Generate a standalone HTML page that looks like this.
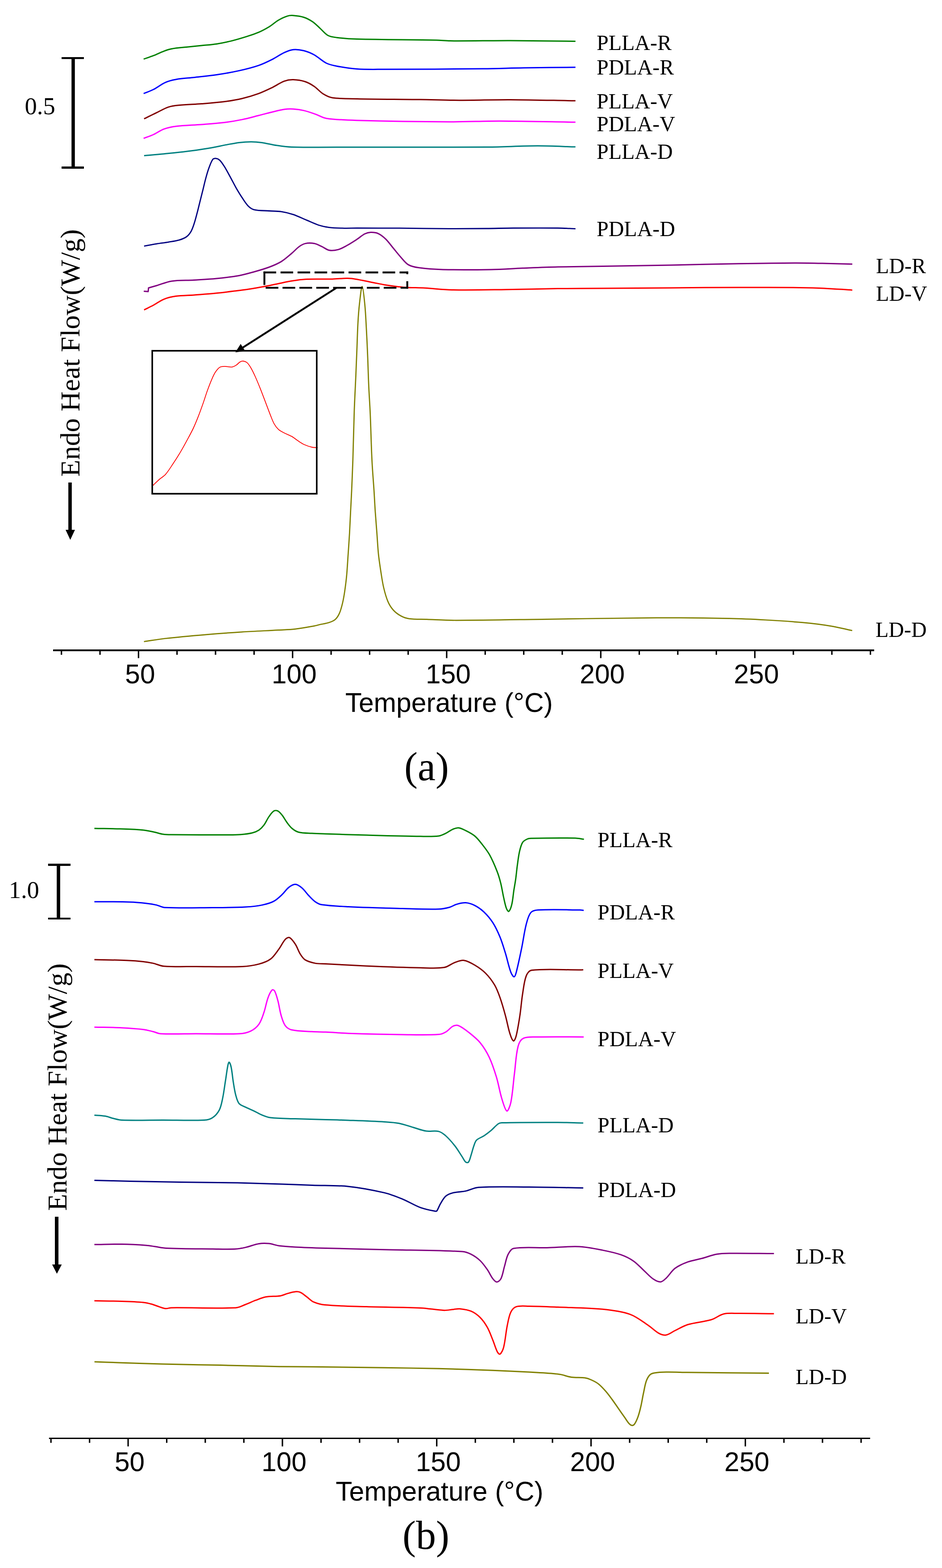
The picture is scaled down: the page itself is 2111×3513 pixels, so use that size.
<!DOCTYPE html>
<html><head><meta charset="utf-8"><title>DSC curves</title><style>
html,body{margin:0;padding:0;background:#fff;}
body{width:2111px;height:3513px;overflow:hidden;}
svg{display:block;}
.lab{font-family:"Liberation Serif","Times New Roman",serif;font-size:48px;fill:#000;}
.num{font-family:"Liberation Serif","Times New Roman",serif;font-size:54.5px;fill:#000;}
.yl{font-family:"Liberation Serif","Times New Roman",serif;font-size:62px;fill:#000;}
.pan{font-family:"Liberation Serif","Times New Roman",serif;font-size:90px;fill:#000;text-anchor:middle;}
.tick{font-family:"Liberation Sans",Arial,sans-serif;font-size:60.5px;fill:#000;text-anchor:middle;}
.ttl{font-family:"Liberation Sans",Arial,sans-serif;font-size:60.6px;fill:#000;text-anchor:middle;}
</style></head><body>
<svg width="2111" height="3513" viewBox="0 0 2111 3513">
<rect width="2111" height="3513" fill="#fff"/>
<g fill="none" stroke-linejoin="round" stroke-linecap="butt">
<path d="M321.9 132.4C329.2 129.8 336.6 127.5 343.8 124.7C351.8 121.6 359.4 117.6 367.4 114.6C372.9 112.5 378.5 110.5 384.2 109.5C395.3 107.5 406.7 106.7 417.9 105.5C429.1 104.3 440.4 103.3 451.6 102.1C462.8 100.9 474.1 100.1 485.3 98.4C496.6 96.6 507.9 94.3 519 91.6C530.3 88.8 541.6 85.4 552.7 81.9C561.8 79 570.9 76.2 579.6 72.4C587.7 68.9 595.6 64.6 603.2 60C610.3 55.7 616.4 49.7 623.5 45.5C629.9 41.7 636.7 38.3 643.7 36.1C647.9 34.7 652.7 34.4 657.1 34.7C665 35.3 673.2 36.3 680.7 38.7C687.8 41 694.7 44.7 700.9 48.9C707.1 53.1 712.2 58.9 717.8 64C723.4 69 728.2 75.7 734.6 79.2C740.5 82.4 748 83.3 754.9 84.2C769.8 86.1 784.9 87.2 800 87.6C859.5 89.1 919.1 88.9 978.6 90C988.7 90.2 998.8 91.5 1008.9 91.6C1053.8 91.9 1098.8 90.9 1143.7 91C1192.3 91.2 1241 92 1289.6 92.5" stroke="#008000" stroke-width="3.0"/>
<path d="M321.9 209.6C329.2 206.6 336.8 204.1 343.8 200.5C353.1 195.8 361.3 188.8 370.8 184.6C378.2 181.3 386.3 179.3 394.3 177.9C407.6 175.6 421.3 175 434.8 173.5C451.6 171.6 468.5 170 485.3 167.5C502.2 165 519.1 162.1 535.8 158.4C550.5 155.1 565.3 151.5 579.6 146.6C590.1 143 600.1 138.1 610 133.1C619.2 128.5 627.6 122.2 636.9 117.9C643.3 114.9 650.2 111.9 657.1 111.2C664.8 110.4 673.1 111.6 680.7 113.5C688.8 115.5 696.9 118.9 704.3 123C713.8 128.3 721.7 136.7 731.3 141.5C738.5 145.1 746.9 146.7 754.9 148.2C769.8 151 784.9 153.5 800 154.5C820.1 155.9 840.4 155.3 860.6 155.3C934.7 155.2 1008.9 154.8 1083 154C1113.3 153.7 1143.7 152.5 1174 152C1212.5 151.4 1251.1 151.2 1289.6 150.8" stroke="#0000ff" stroke-width="3.0"/>
<path d="M322.9 266.2C332.1 261.7 341.3 257.1 350.5 252.7C359.5 248.4 368.1 243 377.5 239.9C385 237.4 393.2 236.6 401.1 235.8C417.9 234.1 434.8 233.8 451.6 232.5C468.5 231.2 485.4 230 502.2 227.8C515.7 226 529.3 223.8 542.6 220.7C555.1 217.8 567.5 214 579.6 209.6C590 205.8 600 200.9 610 196.1C619.1 191.7 627.5 185.4 636.9 181.9C643.2 179.6 650.4 178.4 657.1 178.6C666.1 178.8 675.5 180.3 684.1 183C691.3 185.3 698 189.4 704.3 193.7C711.5 198.6 717.1 206 724.5 210.6C730.6 214.4 737.6 218 744.7 219C762.7 221.6 781.6 221 800 221.4C847.2 222.4 894.3 222.3 941.5 223C970.7 223.4 999.8 224.6 1029 224.7C1067.2 224.8 1105.5 223.2 1143.7 223.4C1192.3 223.6 1241 225 1289.6 225.8" stroke="#800000" stroke-width="3.0"/>
<path d="M321.9 310C329.2 307.2 336.7 304.8 343.8 301.5C351.9 297.8 359.1 292.1 367.4 289.1C376 286 385.2 284.1 394.3 283C413.3 280.7 432.5 280.5 451.6 279C468.5 277.7 485.4 276.6 502.2 274.6C515.7 272.9 529.2 270.6 542.6 267.9C555 265.4 567.3 261.9 579.6 258.8C589.7 256.3 599.8 253.4 610 251C618.9 248.8 627.8 246.3 636.9 245C643.5 244.1 650.4 243.9 657.1 244.3C665 244.8 673 245.8 680.7 247.6C689.9 249.7 698.8 253 707.7 256.1C715.7 258.9 723 264 731.3 265.2C753.8 268.5 777.1 269.1 800 269.7C869.6 271.6 939.3 272.6 1008.9 272.9C1045.9 273.1 1083 271.1 1120 271.2C1176.5 271.4 1233.1 272.9 1289.6 273.8" stroke="#ff00ff" stroke-width="3.0"/>
<path d="M322.9 348.7C337.7 347.4 352.6 346.2 367.4 344.7C384.2 343 401.1 341.4 417.9 339.3C434.8 337.2 451.7 334.7 468.5 331.9C482 329.6 495.4 326.6 508.9 324.1C517.8 322.4 526.8 320.5 535.8 319.4C544.7 318.3 553.8 317.7 562.8 317.7C570.7 317.7 578.6 318.3 586.4 319.4C597.7 321 608.8 324.1 620.1 325.8C631.3 327.5 642.5 329.3 653.8 329.5C702.5 330.6 751.3 329.7 800 329.7C897.7 329.7 995.3 330.2 1093 329.5C1130 329.2 1167 326.9 1204 326.8C1232.5 326.7 1261.1 328.3 1289.6 329.1" stroke="#008080" stroke-width="3.0"/>
<path d="M322.9 551.4C332.1 549.7 341.3 547.8 350.5 546.3C359.5 544.8 368.5 543.8 377.5 542.3C385.4 541 393.5 540.1 401.1 537.9C406.9 536.2 413 534 417.9 530.5C422 527.6 425.4 523.1 428 518.7C431 513.5 432.9 507.6 434.8 501.8C437.4 494.1 439.4 486.1 441.5 478.2C443.9 469.3 446 460.3 448.2 451.3C450.5 442.3 452.7 433.3 455 424.3C457.2 415.3 459.2 406.3 461.7 397.4C463.7 390 465.8 382.6 468.5 375.5C470.9 369.2 473.2 362.1 476.9 357C478.2 355.2 481.4 354.7 483.6 354.9C486.5 355.2 489.8 356.6 492 358.6C496 362.3 499.2 367.4 502.2 372.1C507 379.7 511.2 387.8 515.6 395.7C520.2 404.1 524.4 412.7 529.1 421C533.4 428.4 537.8 435.8 542.6 442.9C546.8 449.2 550.8 456.1 556.1 461.4C559.8 465.1 564.5 468.6 569.5 469.8C580.2 472.3 592 471.7 603.2 472.5C612.2 473.2 621.3 472.9 630.2 474.2C639.3 475.6 648.4 477.7 657.1 480.6C667.5 484.1 677.4 489.2 687.5 493.4C696.5 497.1 705.2 501.5 714.4 504.5C722 506.9 730 508.7 738 509.6C749.1 510.9 760.5 511 771.7 511.3C781.1 511.5 790.6 511 800 511C831.6 511 863.3 511 894.9 511.2C931.9 511.5 969 512.2 1006 512.4C1034.1 512.5 1062.2 512.3 1090.3 512C1110.2 511.8 1130.1 511.1 1150 511C1183.3 510.8 1216.7 510.6 1250 511C1263.2 511.1 1276.4 512 1289.6 512.5" stroke="#000080" stroke-width="2.8"/>
<path d="M322.2 652.4L332 653.3L332.9 645C338.8 643.3 344.6 641.7 350.5 640C361.7 636.7 372.7 631.6 384.2 629.9C400.8 627.4 417.9 628.5 434.8 627.5C451.6 626.5 468.5 625.8 485.3 624.1C502.2 622.4 519.1 620.4 535.8 617.4C547.2 615.4 558.4 612.1 569.5 609C580.8 605.8 592.2 602.6 603.2 598.5C612.4 595 621.8 591.2 630.2 586.1C638.7 580.9 646.1 573.9 653.8 567.5C659.6 562.7 664.5 556.8 670.6 552.4C674.6 549.5 679.3 546.6 684.1 545.6C690.5 544.3 697.8 544.4 704.3 545.6C710.2 546.7 715.7 549.9 721.2 552.4C726.9 555 732.1 559.7 738 560.8C744.4 562 751.8 560.8 758.2 559.1C764.8 557.3 770.9 553.6 777 550.3C785 545.9 792.8 540.8 800.5 535.8C806.3 532.1 811.4 527 817.4 524C821.5 522 826.4 520.7 830.9 520.6C836.5 520.5 842.7 521 847.7 523.3C853.9 526.1 859.6 531 864.6 535.8C870.8 541.9 875.8 549.3 881.4 556C887 562.7 892.3 569.7 898.2 576.2C903.6 582.1 908.4 589.2 915.1 593.1C921.9 597.1 930.6 598.7 938.7 599.8C956.5 602.3 974.6 603.4 992.6 603.9C1028.5 604.8 1064.5 604.5 1100.4 603.9C1124 603.5 1147.6 601.7 1171.2 600.8C1197.5 599.8 1223.7 598.7 1250 598.1C1283.9 597.3 1317.7 597 1351.6 596.4C1402.1 595.6 1452.7 594.8 1503.2 593.9C1553.7 593 1604.3 591.6 1654.8 590.8C1696.9 590.1 1739 589.4 1781.1 589.3C1804.7 589.2 1828.2 589.8 1851.8 590.3C1871.2 590.7 1890.6 591.3 1910 591.8" stroke="#800080" stroke-width="3.0"/>
<path d="M322.9 694.3C329.9 690.8 336.9 687.5 343.8 683.8C351.8 679.5 359.1 673.6 367.4 670.3C375.9 666.9 385.2 664.9 394.3 663.6C407.6 661.7 421.3 661.9 434.8 660.9C451.6 659.6 468.5 658.5 485.3 656.8C499.7 655.4 514 653.5 528.3 651.7C537.7 650.5 547.2 649.3 556.6 647.9C568 646.2 579.3 644.4 590.6 642.3C601.3 640.3 611.9 637.9 622.6 635.7C633.4 633.5 644.1 631.1 654.9 629.3C664.5 627.7 674.3 626.1 684 625.7C704.2 624.8 724.5 625.7 744.7 625.2C755.2 624.9 765.7 623.8 776.2 623.5C780.2 623.4 784.3 623.5 788.3 624C796.4 625.1 804.5 626.8 812.6 628.3C820.7 629.8 828.8 631.6 836.9 633.2C845 634.8 853 636.6 861.1 638C869.2 639.4 877.3 640.4 885.4 641.4C893.4 642.4 901.5 643.4 909.6 643.9C923.8 644.7 938 644.5 952.2 645.3C972.4 646.4 992.6 649 1012.8 649.4C1053.2 650.2 1093.7 649.2 1134.1 648.7C1172.7 648.2 1211.4 647.1 1250 646.6C1283.9 646.2 1317.7 646.1 1351.6 645.9C1402.1 645.6 1452.7 645.2 1503.2 644.9C1553.7 644.6 1604.3 644 1654.8 643.9C1700.3 643.8 1745.7 643.9 1791.2 644.4C1809.7 644.6 1828.3 645 1846.8 645.9C1867.9 646.9 1888.9 648.6 1910 649.9" stroke="#ff0000" stroke-width="3.0"/>
<path d="M322.6 1437.5C338.4 1435.2 354.2 1432.3 370.1 1430.5C400.6 1427.1 431.1 1424.4 461.7 1421.8C488.6 1419.5 515.6 1417.6 542.6 1415.9C569.5 1414.2 596.5 1413.1 623.5 1411.6C636.1 1410.9 648.7 1410.8 661.2 1409.4C675.6 1407.8 690 1405 704.3 1402.4C708.3 1401.7 712.1 1400.4 716 1399.5C723.1 1397.9 730.5 1397.1 737.3 1394.8C742.3 1393.1 747.6 1391.1 751.4 1387.7C755.5 1384 758.6 1378.7 760.8 1373.6C764.1 1366.2 766 1358 767.9 1350C769.9 1341.5 771.3 1332.8 772.6 1324.1C774.3 1312.3 775.8 1300.5 776.9 1288.7C778.3 1273 779.1 1257.2 780.2 1241.5C781.3 1225.8 782.4 1210 783.3 1194.3C784.2 1178.6 784.8 1162.9 785.6 1147.2C786.4 1131.5 787.3 1115.7 788 1100C789 1076.7 790 1053.3 790.8 1030C792 993.4 792.6 956.7 793.9 920.1C794.8 894.2 796.3 868.2 797.4 842.3C798.2 822.6 799 803 799.8 783.3C800.6 763.6 801 743.9 802.1 724.3C802.9 709.3 804 694.4 805.7 679.5C807.2 666.9 809.7 641.4 811.6 641.8C813.6 642.2 816.2 668.5 817.5 681.9C819.3 699.9 820 718 821 736.1C822.1 755.8 823 775.4 823.8 795.1C824.8 818.7 825.3 842.2 826.4 865.8C827.3 886.3 828.8 906.7 829.7 927.2C831.2 961.5 831.8 995.8 833.5 1030C834.6 1053.4 836.7 1076.7 838.2 1100C839.2 1115.7 839.9 1131.5 841 1147.2C842.1 1162.9 843.4 1178.6 844.6 1194.3C845.8 1210 846.5 1225.8 848.1 1241.5C849.6 1255.7 851.8 1269.9 854 1284C855.7 1295 857.3 1306.2 859.9 1317C862.4 1327.4 865.1 1337.9 869.3 1347.6C872.2 1354.4 876.2 1361 881.1 1366.5C885.7 1371.7 891.6 1376.2 897.6 1379.5C903.4 1382.7 910 1385.2 916.5 1386.1C929.6 1387.9 943.2 1387.2 956.6 1387.7C978.5 1388.5 1000.5 1389.8 1022.4 1389.8C1090.4 1389.7 1158.4 1388.2 1226.4 1387.3C1308 1386.3 1389.6 1384.4 1471.2 1384.1C1525.6 1383.9 1580.1 1384.6 1634.5 1385.7C1661.7 1386.2 1688.9 1387.5 1716.1 1389C1743.3 1390.5 1770.6 1392.2 1797.7 1394.7C1819.5 1396.8 1841.4 1399.3 1863 1402.8C1878.7 1405.3 1894.2 1409.5 1909.8 1412.8" stroke="#808000" stroke-width="2.7"/>
<path d="M342.6 1087.8C347.3 1083.3 351.9 1078.5 356.8 1074.2C361.3 1070.2 367 1067.4 370.9 1062.9C377.3 1055.6 382.4 1047 387.9 1038.8C393.8 1030 399.5 1021 404.9 1011.9C409.9 1003.5 414.5 995 419.1 986.4C423.9 977.5 428.9 968.6 433.2 959.5C437.3 950.7 441 941.7 444.5 932.7C448.5 922.4 452.2 911.9 455.9 901.5C458.9 893 461.4 884.4 464.4 876C467.5 867.5 470.7 858.9 474.3 850.6C476.8 844.8 479.3 838.8 482.8 833.6C485.5 829.6 488.7 825.2 492.7 822.8C495.8 820.9 500.2 821 504 820.9C509.1 820.8 514.5 822.9 519.5 822.3C523 821.9 526.4 819.9 529.5 818C532.6 816.1 534.8 812.7 537.9 810.9C540 809.7 542.7 808.8 545 809C547.9 809.3 551.3 810.5 553.5 812.4C556.9 815.4 559.6 819.7 562 823.7C565.7 830 568.9 836.8 571.9 843.5C575.9 852.4 579.6 861.4 583.2 870.4C587.1 880.2 590.8 890.2 594.6 900.1C598.4 910 602 920 605.9 929.8C608.6 936.5 610.9 943.4 614.4 949.6C617 954.3 620.4 958.8 624.3 962.4C627.9 965.6 632.6 967.7 637 970C642.5 972.9 648.6 974.8 654 977.9C659 980.7 663.3 984.7 668.1 987.8C672.7 990.8 677.3 994 682.3 996.3C687.7 998.8 693.5 1000.7 699.3 1002C703.4 1002.9 707.8 1002.6 712 1002.9" stroke="#ff0000" stroke-width="1.8"/>
<path d="M211.5 1856C230.7 1856.4 249.8 1856.5 269 1857.1C286.3 1857.7 303.6 1858.1 320.8 1859.7C329.6 1860.5 338.2 1862.7 346.8 1864.5C353 1865.8 359 1868.1 365.3 1869C371.4 1869.9 377.7 1870 383.9 1870.1C427.1 1870.5 470.4 1870.5 513.6 1870.4C522.2 1870.4 530.9 1870.4 539.5 1869.7C548.2 1869 557.1 1868.1 565.5 1866C570.7 1864.7 575.9 1862.6 580.3 1859.7C584.6 1856.8 588.3 1852.8 591.4 1848.6C595.7 1842.9 598.4 1835.9 602.5 1830C605.8 1825.4 609.2 1819.9 613.6 1817.1C616 1815.6 620.3 1815.8 622.9 1817.1C626.5 1818.9 629.5 1822.9 632.2 1826.3C636.3 1831.5 639.3 1837.7 643.3 1843C646.7 1847.6 650.1 1852.4 654.4 1856C658.7 1859.6 663.9 1863.1 669.3 1864.5C678.7 1866.8 689 1866.5 698.9 1867.1C709.3 1867.7 719.6 1867.9 730 1868.2C760.4 1869.2 790.9 1870.2 821.3 1871C861.7 1872.1 902.2 1873.3 942.6 1873.8C956.1 1874 969.9 1874.6 983.1 1873C988.7 1872.3 994 1869.4 999.2 1866.9C1004.8 1864.2 1009.7 1860 1015.4 1857.6C1019.2 1856 1023.6 1854.3 1027.5 1854.8C1033 1855.4 1038.6 1858.3 1043.7 1860.9C1050.7 1864.4 1057.9 1868 1063.9 1873C1070 1878.1 1075 1884.7 1080 1891C1086 1898.6 1092.1 1906.2 1096.8 1914.6C1103.4 1926.4 1108.7 1939 1113.7 1951.6C1117.2 1960.3 1119.8 1969.5 1122.1 1978.6C1124.7 1988.9 1126.2 1999.6 1128.5 2010C1130.4 2018.3 1131.9 2026.9 1134.7 2034.8C1135.7 2037.6 1138.6 2042.9 1140 2042C1142.6 2040.2 1145.5 2032.1 1146.8 2026.7C1149.3 2016.4 1149.9 2005.6 1151.5 1995C1152.9 1986.2 1154.6 1977.4 1155.8 1968.5C1157.1 1959 1157.9 1949.3 1159.2 1939.8C1160.7 1929.1 1161.8 1918.3 1164.2 1907.8C1165.8 1900.9 1167.5 1893.4 1171 1887.6C1173.1 1884.2 1177.4 1881.8 1181.1 1880C1183.6 1878.7 1186.6 1878.4 1189.5 1878.3C1222.6 1877.6 1255.8 1877.2 1288.9 1877.8C1295.5 1877.9 1302 1879.5 1308.6 1880.3" stroke="#008000" stroke-width="3.0"/>
<path d="M211.5 2020.2C238.1 2020.4 264.7 2020.1 291.2 2020.9C303.6 2021.3 316 2022.5 328.3 2023.9C335.7 2024.7 343.2 2025.9 350.5 2027.6C356.8 2029 362.6 2032.9 369 2033.2C404.6 2034.9 440.7 2033.7 476.5 2033.5C501.2 2033.3 526 2033.3 550.6 2032C563 2031.3 575.6 2030.1 587.7 2027.6C596.6 2025.8 605.8 2023.3 613.7 2019.1C620.6 2015.5 626.4 2009.6 632.2 2004.2C637.5 1999.3 641.4 1992.7 647 1988.3C651.2 1985 656.9 1981.1 661.8 1981.3C666.8 1981.5 672.4 1985.8 676.7 1989.4C682.3 1994.1 686.4 2000.7 691.5 2006.1C696.2 2011 700.8 2016.3 706.3 2020.2C710.4 2023.1 715.2 2025.9 720.2 2026.7C740.1 2029.7 760.6 2030.5 780.9 2031.5C821.3 2033.5 861.8 2034.5 902.2 2035.6C929.2 2036.3 956.2 2037.5 983.1 2036.8C991.3 2036.6 999.5 2034.8 1007.3 2032.7C1012.9 2031.2 1017.9 2027.5 1023.5 2025.9C1030 2024.1 1037.1 2022.1 1043.7 2022.6C1050.5 2023.1 1057.7 2025.6 1063.9 2028.7C1071.2 2032.3 1078.2 2037.2 1084.1 2042.8C1091.7 2050 1098.7 2058.3 1104.4 2067.1C1110.9 2077.1 1115.9 2088.3 1120.5 2099.4C1125.4 2111.2 1128.9 2123.6 1132.7 2135.8C1137 2149.9 1139.8 2164.6 1144.8 2178.3C1146.2 2182.2 1150 2188.6 1152.1 2188.6C1154 2188.6 1155.9 2182 1156.9 2178.3C1161.6 2160.3 1165.3 2142 1169.1 2123.7C1172.7 2106.2 1174.8 2088.3 1179.2 2071.1C1181.5 2062.1 1183.9 2051.6 1189.3 2044.9C1192.6 2040.8 1199.8 2039.1 1205.5 2038.8C1236.7 2037.1 1268.5 2038.5 1300 2038.8C1302.7 2038.8 1305.3 2039.4 1308 2039.7" stroke="#0000ff" stroke-width="3.0"/>
<path d="M211.5 2149.9C235.6 2150.5 259.7 2150.8 283.8 2151.8C296.2 2152.3 308.5 2153.1 320.8 2154.4C328.3 2155.2 335.8 2156.5 343.1 2158.1C351.2 2159.9 358.9 2164.1 367.2 2164.7C391 2166.5 415.3 2165.4 439.4 2165.5C474 2165.7 508.7 2166.9 543.2 2165.5C555.7 2165 568.3 2163.1 580.3 2159.9C589.3 2157.5 598.9 2154.3 606.2 2148.8C613.7 2143.2 619 2134.3 624.8 2126.6C630.1 2119.5 633.8 2110.6 639.6 2104.3C641.8 2101.9 646.4 2099.4 648.9 2100.6C653.8 2103.1 658.3 2110 661.8 2115.4C666.3 2122.3 668.6 2130.7 673 2137.7C676 2142.5 679.4 2147.7 684.1 2150.6C690.5 2154.5 698.7 2156.6 706.3 2158.1C714 2159.6 722.1 2159.1 730 2159.5C760.4 2161.1 790.9 2162.9 821.3 2164.2C861.7 2165.9 902.2 2167.5 942.6 2168.3C960.1 2168.6 978.2 2170.3 995.2 2167.6C1003.8 2166.3 1011.1 2159.3 1019.4 2156.3C1025.9 2154 1033.2 2150.8 1039.7 2151.7C1048 2152.8 1056.4 2157.8 1063.9 2162.3C1072.5 2167.4 1081.1 2173.4 1088.2 2180.5C1095.9 2188.2 1102.8 2197.4 1108.4 2206.8C1113.6 2215.6 1117.1 2225.4 1120.5 2235.1C1125.2 2248.4 1129 2262 1132.7 2275.6C1136.4 2289 1138.6 2302.9 1142.8 2316C1144.6 2321.7 1148.2 2331.4 1150.9 2332.2C1152.9 2332.8 1155.8 2324.4 1156.9 2320.1C1160.5 2305.6 1162.7 2290.5 1165 2275.6C1167.5 2259.5 1168.5 2243.1 1171.1 2227C1173.3 2213.4 1174.5 2199 1179.2 2186.6C1181.2 2181.3 1185.7 2174.3 1191.3 2173.7C1225.9 2169.8 1263.8 2173.3 1300 2173C1302.4 2173 1304.7 2172.9 1307.1 2172.8" stroke="#800000" stroke-width="3.0"/>
<path d="M211.5 2301.2C231.9 2301.7 252.3 2301.7 272.7 2302.7C288.8 2303.5 304.9 2304.5 320.8 2306.4C328.3 2307.3 335.7 2309.4 343.1 2311.2C348.7 2312.6 354 2315.7 359.8 2316C386.1 2317.3 412.9 2316 439.4 2316C471.5 2316 503.8 2317.5 535.8 2316C544.6 2315.6 554 2313.8 561.8 2310.1C568.8 2306.7 575.8 2301 580.3 2294.6C585.6 2287.1 588.3 2277.5 591.4 2268.6C595.1 2257.7 596.7 2246 600.7 2235.2C602.9 2229.1 606.2 2221.6 610 2217.8C611.2 2216.6 614.6 2218.7 615.5 2220.4C618.9 2227 620.9 2235.1 622.9 2242.7C625.8 2253.7 627 2265.2 630.3 2276C632.6 2283.7 634.9 2292.2 639.6 2298.3C643 2302.7 648.9 2306.3 654.4 2307.5C668.6 2310.6 684 2310.3 698.9 2311.2C709.2 2311.9 719.6 2311.8 730 2312.3C747 2313.1 763.9 2314.6 780.9 2315.2C821.3 2316.5 861.8 2317.5 902.2 2318C929.2 2318.3 956.4 2319.3 983.1 2317.6C988.7 2317.3 994.3 2314.8 999.2 2312C1005.1 2308.6 1009.4 2302 1015.4 2299C1018.9 2297.3 1023.9 2296.3 1027.5 2297.8C1036.1 2301.3 1044.2 2308 1051.8 2314C1060.4 2320.8 1069.2 2327.8 1076.1 2336.2C1084.1 2346 1090.9 2357.2 1096.3 2368.6C1103 2382.8 1107.9 2398 1112.5 2413.1C1117.3 2429 1119.7 2445.7 1124.6 2461.6C1127.5 2471 1132 2487.5 1135.9 2489.1C1138.7 2490.2 1143.4 2476.6 1144.8 2469.7C1149.1 2448.6 1150.1 2426.6 1152.9 2405C1155.5 2384.8 1156 2363.7 1161 2344.3C1162.8 2337.4 1167.1 2328.9 1173.1 2326.1C1182 2321.9 1194.7 2323.5 1205.5 2323.3C1239.6 2322.6 1273.8 2323.2 1308 2323.2" stroke="#ff00ff" stroke-width="3.0"/>
<path d="M211.5 2498.4C219.5 2499.1 227.7 2499.2 235.6 2500.6C241.9 2501.7 247.9 2504.3 254.1 2505.8C260.2 2507.3 266.4 2509.3 272.7 2509.5C303.5 2510.5 334.4 2509.5 365.3 2509.5C396.2 2509.5 427.3 2511 458 2509.5C464.4 2509.2 471.4 2507.4 476.5 2504C482.5 2500 487.9 2493.7 491.3 2487.3C495.4 2479.5 496.9 2470.1 498.8 2461.3C501.6 2447.9 503.2 2434.2 505.4 2420.6C507.2 2409.5 508.4 2398.2 510.6 2387.2C511.1 2384.6 512.6 2379.3 513.6 2379.8C515.1 2380.5 517.2 2387 518 2390.9C520.3 2401.9 521 2413.2 522.8 2424.3C524.4 2434.2 525.8 2444.2 528.4 2453.9C530.1 2460.3 531.8 2467.7 535.8 2472.5C539.2 2476.6 545.6 2478.1 550.6 2480.6C556.7 2483.6 563.1 2486.2 569.2 2489.1C575.4 2492.1 581.3 2495.8 587.7 2498.4C593.7 2500.8 599.8 2503.3 606.2 2504C624.5 2506 643.3 2505.9 661.8 2506.6C684.5 2507.4 707.3 2507.8 730 2508.4C747 2508.9 763.9 2509.3 780.9 2509.9C807.8 2510.9 834.8 2511.8 861.7 2513.4C872.5 2514.1 883.5 2514.6 894.1 2516.7C905.1 2518.8 915.6 2522.9 926.4 2526C935.9 2528.7 945.2 2532.6 954.8 2534.1C964.1 2535.6 974.2 2532.7 983.1 2534.9C989 2536.4 994.5 2540.8 999.2 2545C1006.6 2551.6 1013.2 2559.4 1019.4 2567.3C1025.4 2574.9 1030.2 2583.4 1035.6 2591.5C1038.3 2595.6 1040.4 2600.8 1043.7 2603.7C1045.1 2604.9 1048.7 2605.1 1049.8 2603.7C1052.8 2599.7 1054 2593 1055.8 2587.5C1058 2580.8 1059.5 2573.9 1061.9 2567.3C1063.5 2562.8 1064.8 2557.5 1068 2554.3C1072.2 2550.1 1078.9 2548.4 1084.1 2545C1089.7 2541.3 1095.1 2537.2 1100.3 2532.9C1105.9 2528.2 1110.6 2522.1 1116.5 2517.9C1118.7 2516.3 1121.8 2515.6 1124.6 2515.5C1166.3 2514.5 1208.1 2514.6 1249.9 2514.7C1269 2514.8 1288 2515.6 1307.1 2516" stroke="#008080" stroke-width="3.0"/>
<path d="M211.5 2644.5C238.1 2645.1 264.6 2645.8 291.2 2646.4C328.3 2647.2 365.3 2648 402.4 2648.6C445.6 2649.3 488.9 2649.3 532.1 2650.1C563 2650.7 593.9 2651.7 624.8 2652.7C649.9 2653.5 674.9 2654.5 700 2655.4C727 2656.4 754.1 2655.4 780.9 2658.2C808 2661.1 835.2 2666.2 861.7 2672.4C875.6 2675.7 889 2681.2 902.2 2686.6C915.9 2692.2 928.7 2700.4 942.6 2705.6C953 2709.4 964.2 2711.5 975 2713.6C976.3 2713.9 978.3 2713.8 979 2712.8C982.3 2708.2 984 2701.8 987.1 2696.7C990.7 2690.8 994.1 2684.1 999.2 2679.7C1003.5 2676 1009.7 2673.8 1015.4 2672.4C1024.5 2670.1 1034.4 2670.4 1043.7 2668.4C1053.3 2666.4 1062.3 2660.9 1072 2660.3C1109.4 2657.9 1147.5 2659.3 1185.2 2659.5C1225.8 2659.7 1266.5 2660.9 1307.1 2661.6" stroke="#000080" stroke-width="3.0"/>
<path d="M211.5 2788.3C231.9 2788.1 252.3 2787.3 272.7 2787.6C291.2 2787.9 309.8 2788.9 328.3 2790.2C334.5 2790.6 340.6 2791.9 346.8 2792.8C355.4 2794 364 2796.1 372.7 2796.5C407.2 2798 441.9 2797.9 476.5 2798.3C493.8 2798.5 511.2 2799.2 528.4 2798.3C535.9 2797.9 543.3 2796.3 550.6 2794.6C560.6 2792.3 570.2 2788.1 580.3 2786.5C587.5 2785.3 595.2 2785.4 602.5 2786.1C610 2786.8 617.3 2789.9 624.8 2790.9C637 2792.5 649.4 2793.2 661.8 2793.9C684.5 2795.1 707.3 2795.8 730 2796.5C773.9 2797.8 817.8 2798.7 861.7 2799.8C919.7 2801.2 977.9 2800.9 1035.6 2804C1042.6 2804.4 1049.6 2807 1055.8 2810.1C1063.1 2813.8 1070.1 2818.8 1076.1 2824.5C1082.3 2830.4 1087.3 2837.7 1092.2 2844.7C1096.7 2851.1 1099.7 2858.7 1104.4 2864.9C1106.7 2867.9 1110.3 2872.2 1113.3 2872.2C1116.4 2872.2 1120.9 2868.3 1122.6 2864.9C1126.7 2856.4 1127.9 2846 1130.7 2836.6C1133.3 2827.8 1134.6 2818.3 1138.7 2810.3C1141.4 2805.1 1145.3 2798 1150.9 2797C1174.3 2793 1200.8 2796.1 1225.7 2795.4C1250 2794.7 1274.3 2791.9 1298.5 2793C1316.1 2793.8 1333.7 2797.7 1351.1 2801.1C1364.7 2803.8 1378.5 2806.6 1391.5 2811.2C1401.4 2814.7 1411.2 2819.5 1419.8 2825.4C1428.7 2831.6 1436 2840.2 1444.1 2847.6C1450.8 2853.7 1456.9 2860.9 1464.3 2865.8C1469 2869 1475.4 2872.3 1480.5 2871.9C1484.8 2871.6 1489.1 2867.1 1492.6 2863.8C1499.9 2857 1504.9 2847.4 1512.8 2841.5C1521.1 2835.3 1531.3 2831 1541.1 2827.4C1551.5 2823.6 1562.8 2822.2 1573.5 2819.3C1584.3 2816.4 1594.8 2812 1605.8 2810C1615 2808.3 1624.6 2808.1 1634.1 2808C1667.5 2807.6 1701 2808.4 1734.4 2808.6" stroke="#800080" stroke-width="3.0"/>
<path d="M211.5 2914.3C231.9 2914.7 252.3 2914.8 272.7 2915.5C288.7 2916 304.9 2916.5 320.8 2918C327.1 2918.6 333.3 2920.1 339.4 2921.8C345.7 2923.5 351.7 2926.1 357.9 2928.1C362.2 2929.5 366.5 2931.5 370.9 2931.8C375.2 2932.1 379.5 2930 383.9 2929.9C432 2929.3 480.6 2932 528.4 2929.9C536.1 2929.6 543.3 2925.2 550.6 2922.5C558.1 2919.7 565.4 2916 572.9 2913.2C580.2 2910.5 587.5 2907.2 595.1 2905.8C606 2903.8 617.5 2904.9 628.5 2903.2C633.6 2902.4 638.3 2899.8 643.3 2898.4C649.4 2896.7 655.6 2894.6 661.8 2894C665.5 2893.6 669.7 2893.9 673 2895.4C678.3 2897.8 682.9 2902.3 687.8 2905.8C692.8 2909.4 697.1 2914.5 702.6 2916.9C710.6 2920.4 719.5 2922.8 728.3 2923.6C759.1 2926.4 790.3 2926.6 821.3 2927.6C861.7 2928.9 902.2 2928.5 942.6 2930.4C960.2 2931.2 977.7 2934.9 995.2 2935.7C1001.9 2936 1008.7 2934.3 1015.4 2933.7C1020.8 2933.2 1026.3 2931.9 1031.6 2932.4C1039.7 2933.2 1048.4 2934.4 1055.8 2937.7C1063.2 2940.9 1070.3 2946.1 1076.1 2951.9C1082.5 2958.3 1087.8 2966.2 1092.2 2974.1C1097.2 2983 1100.5 2992.9 1104.4 3002.4C1108 3011.1 1110.3 3020.5 1114.5 3028.7C1115.7 3031 1119 3035 1120.5 3033.9C1123.7 3031.6 1127.2 3024.1 1128.6 3018.6C1132.6 3002.9 1133.4 2986.1 1136.7 2970.1C1138.8 2959.8 1140.4 2948.9 1144.8 2939.7C1147.2 2934.7 1151.8 2929.3 1156.9 2927.6C1165.3 2924.8 1175.8 2926.3 1185.2 2926.4C1206.8 2926.6 1228.4 2927.6 1250 2928.5C1283.7 2929.9 1317.6 2930 1351.1 2933.3C1371.5 2935.3 1392.6 2937.9 1411.7 2944.6C1426.3 2949.7 1439.1 2960.3 1452.2 2968.9C1460.6 2974.4 1467.7 2982.3 1476.4 2987.1C1481.2 2989.7 1487.4 2992 1492.6 2991.1C1499.6 2989.9 1506 2984.3 1512.8 2981C1522.2 2976.5 1531.2 2970.7 1541.1 2967.7C1558.1 2962.6 1576.6 2961.8 1593.7 2956.8C1603.6 2953.9 1612.1 2946.1 1622 2943.8C1632.3 2941.4 1643.6 2942.6 1654.4 2942.6C1681.1 2942.5 1707.7 2943.1 1734.4 2943.3" stroke="#ff0000" stroke-width="3.0"/>
<path d="M211.7 3050.9C229.9 3051.6 248.2 3052.3 266.4 3052.9C298.5 3054 330.7 3055.2 362.8 3056C406.6 3057.1 450.4 3057.7 494.2 3058.6C538 3059.6 581.8 3060.9 625.6 3061.7C650.4 3062.1 675.2 3061.9 700 3062.2C753.9 3062.8 807.8 3063.5 861.7 3064.3C902.2 3064.9 942.6 3065.3 983.1 3066.3C1023.5 3067.3 1064 3068.8 1104.4 3070.3C1131.3 3071.3 1158.3 3072.6 1185.2 3074C1203.5 3075 1221.8 3076 1240 3077.4C1245.4 3077.8 1250.9 3078.3 1256.2 3079.4C1264.3 3081 1272.2 3084.3 1280.4 3085.5C1290.4 3086.9 1300.8 3085.8 1310.8 3087.1C1315.6 3087.8 1320.4 3089.5 1324.9 3091.5C1330.5 3094 1336.3 3096.8 1341.1 3100.6C1347 3105.3 1352.2 3111.1 1357.2 3116.8C1362.3 3122.6 1366.8 3128.8 1371.4 3135C1376.3 3141.6 1380.8 3148.5 1385.5 3155.2C1390.2 3161.9 1395 3168.7 1399.7 3175.4C1403.1 3180.1 1406 3185.3 1409.8 3189.6C1411.4 3191.4 1413.8 3193.4 1415.9 3193.6C1417.8 3193.8 1420.7 3192.4 1421.9 3190.6C1425.4 3185.6 1427.9 3179.3 1430 3173.4C1432.6 3166.2 1434.4 3158.7 1436.1 3151.2C1438.4 3141.2 1439.9 3131 1442.1 3120.9C1444 3112.1 1445.3 3103 1448.2 3094.6C1450 3089.5 1452.7 3084.1 1456.3 3080.4C1458.7 3077.9 1462.8 3076.6 1466.4 3076C1475 3074.5 1483.9 3074.1 1492.7 3074C1508.5 3073.7 1524.2 3074.6 1540 3074.8C1601 3075.4 1662.1 3075.9 1723.1 3076.4" stroke="#808000" stroke-width="3.0"/>
</g>
<g fill="none" stroke="#000">
<line x1="590.6" y1="610.4" x2="914.7" y2="610.4" stroke-width="4.2" stroke-dasharray="28.3 9.8"/>
<line x1="595.3" y1="644.8" x2="914.7" y2="644.8" stroke-width="4" stroke-dasharray="28.5 9.3"/>
<line x1="592.5" y1="608.3" x2="592.5" y2="638.5" stroke-width="4.2"/>
<line x1="912.7" y1="608.3" x2="912.7" y2="614.3" stroke-width="4.2"/>
<line x1="912.7" y1="630" x2="912.7" y2="646.8" stroke-width="4.2"/>
<rect x="341.2" y="785.9" width="368.6" height="320.3" stroke-width="3.6"/>
<line x1="753.8" y1="645.1" x2="542" y2="780" stroke-width="4.2"/>
<line x1="164" y1="130" x2="164" y2="375.5" stroke-width="7.5"/>
<line x1="138" y1="130.1" x2="188" y2="130.1" stroke-width="4.4"/>
<line x1="138" y1="375.5" x2="188" y2="375.5" stroke-width="5"/>
<line x1="157" y1="1081" x2="157" y2="1190" stroke-width="7.7"/>
<line x1="131" y1="1937.4" x2="131" y2="2057.9" stroke-width="7.7"/>
<line x1="107.8" y1="1937.4" x2="158" y2="1937.4" stroke-width="5"/>
<line x1="107.8" y1="2057.9" x2="158" y2="2057.9" stroke-width="4"/>
<line x1="127" y1="2726" x2="127" y2="2836" stroke-width="8"/>
</g>
<g fill="#000" stroke="none">
<polygon points="527.4,789.4 539.3,770.6 549.3,786.2"/>
<polygon points="147,1187 168,1187 157.5,1209.6"/>
<polygon points="116.8,2833 138.4,2833 127.5,2853.8"/>
</g>
<line x1="119" y1="1457" x2="1959" y2="1457" stroke="#000" stroke-width="4"/>
<line x1="137.7" y1="1457" x2="137.7" y2="1467" stroke="#000" stroke-width="3.2"/>
<line x1="224.1" y1="1457" x2="224.1" y2="1467" stroke="#000" stroke-width="3.2"/>
<line x1="310.4" y1="1457" x2="310.4" y2="1474.5" stroke="#000" stroke-width="3.2"/>
<line x1="396.7" y1="1457" x2="396.7" y2="1467" stroke="#000" stroke-width="3.2"/>
<line x1="483" y1="1457" x2="483" y2="1467" stroke="#000" stroke-width="3.2"/>
<line x1="569.4" y1="1457" x2="569.4" y2="1467" stroke="#000" stroke-width="3.2"/>
<line x1="655.7" y1="1457" x2="655.7" y2="1474.5" stroke="#000" stroke-width="3.2"/>
<line x1="742" y1="1457" x2="742" y2="1467" stroke="#000" stroke-width="3.2"/>
<line x1="828.3" y1="1457" x2="828.3" y2="1467" stroke="#000" stroke-width="3.2"/>
<line x1="914.7" y1="1457" x2="914.7" y2="1467" stroke="#000" stroke-width="3.2"/>
<line x1="1001" y1="1457" x2="1001" y2="1474.5" stroke="#000" stroke-width="3.2"/>
<line x1="1087.3" y1="1457" x2="1087.3" y2="1467" stroke="#000" stroke-width="3.2"/>
<line x1="1173.7" y1="1457" x2="1173.7" y2="1467" stroke="#000" stroke-width="3.2"/>
<line x1="1260" y1="1457" x2="1260" y2="1467" stroke="#000" stroke-width="3.2"/>
<line x1="1346.3" y1="1457" x2="1346.3" y2="1474.5" stroke="#000" stroke-width="3.2"/>
<line x1="1432.6" y1="1457" x2="1432.6" y2="1467" stroke="#000" stroke-width="3.2"/>
<line x1="1518.9" y1="1457" x2="1518.9" y2="1467" stroke="#000" stroke-width="3.2"/>
<line x1="1605.3" y1="1457" x2="1605.3" y2="1467" stroke="#000" stroke-width="3.2"/>
<line x1="1691.6" y1="1457" x2="1691.6" y2="1474.5" stroke="#000" stroke-width="3.2"/>
<line x1="1777.9" y1="1457" x2="1777.9" y2="1467" stroke="#000" stroke-width="3.2"/>
<line x1="1864.2" y1="1457" x2="1864.2" y2="1467" stroke="#000" stroke-width="3.2"/>
<line x1="1950.6" y1="1457" x2="1950.6" y2="1467" stroke="#000" stroke-width="3.2"/>
<text x="313.9" y="1530.8" class="tick">50</text>
<text x="659.2" y="1530.8" class="tick">100</text>
<text x="1004.5" y="1530.8" class="tick">150</text>
<text x="1349.8" y="1530.8" class="tick">200</text>
<text x="1695.1" y="1530.8" class="tick">250</text>
<line x1="109.8" y1="3222.5" x2="1950" y2="3222.5" stroke="#000" stroke-width="3.2"/>
<line x1="114.2" y1="3222.5" x2="114.2" y2="3232.6" stroke="#000" stroke-width="3.2"/>
<line x1="200.7" y1="3222.5" x2="200.7" y2="3232.6" stroke="#000" stroke-width="3.2"/>
<line x1="287.1" y1="3222.5" x2="287.1" y2="3240.6" stroke="#000" stroke-width="3.2"/>
<line x1="373.6" y1="3222.5" x2="373.6" y2="3232.6" stroke="#000" stroke-width="3.2"/>
<line x1="460" y1="3222.5" x2="460" y2="3232.6" stroke="#000" stroke-width="3.2"/>
<line x1="546.5" y1="3222.5" x2="546.5" y2="3232.6" stroke="#000" stroke-width="3.2"/>
<line x1="632.9" y1="3222.5" x2="632.9" y2="3240.6" stroke="#000" stroke-width="3.2"/>
<line x1="719.4" y1="3222.5" x2="719.4" y2="3232.6" stroke="#000" stroke-width="3.2"/>
<line x1="805.8" y1="3222.5" x2="805.8" y2="3232.6" stroke="#000" stroke-width="3.2"/>
<line x1="892.2" y1="3222.5" x2="892.2" y2="3232.6" stroke="#000" stroke-width="3.2"/>
<line x1="978.7" y1="3222.5" x2="978.7" y2="3240.6" stroke="#000" stroke-width="3.2"/>
<line x1="1065.2" y1="3222.5" x2="1065.2" y2="3232.6" stroke="#000" stroke-width="3.2"/>
<line x1="1151.6" y1="3222.5" x2="1151.6" y2="3232.6" stroke="#000" stroke-width="3.2"/>
<line x1="1238.1" y1="3222.5" x2="1238.1" y2="3232.6" stroke="#000" stroke-width="3.2"/>
<line x1="1324.5" y1="3222.5" x2="1324.5" y2="3240.6" stroke="#000" stroke-width="3.2"/>
<line x1="1411" y1="3222.5" x2="1411" y2="3232.6" stroke="#000" stroke-width="3.2"/>
<line x1="1497.4" y1="3222.5" x2="1497.4" y2="3232.6" stroke="#000" stroke-width="3.2"/>
<line x1="1583.8" y1="3222.5" x2="1583.8" y2="3232.6" stroke="#000" stroke-width="3.2"/>
<line x1="1670.3" y1="3222.5" x2="1670.3" y2="3240.6" stroke="#000" stroke-width="3.2"/>
<line x1="1756.8" y1="3222.5" x2="1756.8" y2="3232.6" stroke="#000" stroke-width="3.2"/>
<line x1="1843.2" y1="3222.5" x2="1843.2" y2="3232.6" stroke="#000" stroke-width="3.2"/>
<line x1="1929.7" y1="3222.5" x2="1929.7" y2="3232.6" stroke="#000" stroke-width="3.2"/>
<text x="290.6" y="3296.2" class="tick">50</text>
<text x="636.4" y="3296.2" class="tick">100</text>
<text x="982.2" y="3296.2" class="tick">150</text>
<text x="1328" y="3296.2" class="tick">200</text>
<text x="1673.8" y="3296.2" class="tick">250</text>
<text x="1337" y="112.2" class="lab">PLLA-R</text>
<text x="1337" y="166.9" class="lab">PDLA-R</text>
<text x="1337" y="242.7" class="lab">PLLA-V</text>
<text x="1337" y="294" class="lab">PDLA-V</text>
<text x="1337" y="356.1" class="lab">PLLA-D</text>
<text x="1337" y="529.1" class="lab">PDLA-D</text>
<text x="1963" y="611.9" class="lab">LD-R</text>
<text x="1963" y="673.8" class="lab">LD-V</text>
<text x="1962" y="1426.8" class="lab">LD-D</text>
<text x="1339" y="1898.2" class="lab">PLLA-R</text>
<text x="1339" y="2059.9" class="lab">PDLA-R</text>
<text x="1339" y="2191.1" class="lab">PLLA-V</text>
<text x="1339" y="2343.9" class="lab">PDLA-V</text>
<text x="1339" y="2536.8" class="lab">PLLA-D</text>
<text x="1339" y="2681.8" class="lab">PDLA-D</text>
<text x="1783" y="2830.7" class="lab">LD-R</text>
<text x="1783" y="2965" class="lab">LD-V</text>
<text x="1783" y="3100.6" class="lab">LD-D</text>
<text x="55.6" y="255.6" class="num">0.5</text>
<text x="19.7" y="2011.8" class="num">1.0</text>
<text x="1006.3" y="1595.3" class="ttl">Temperature (°C)</text>
<text x="985" y="3361.9" class="ttl">Temperature (°C)</text>
<text x="956" y="1748.2" class="pan">(a)</text>
<text x="954.5" y="3470" class="pan">(b)</text>
<text transform="translate(178 1068) rotate(-90)" class="yl">Endo Heat Flow(W/g)</text>
<text transform="translate(149.2 2712.7) rotate(-90)" class="yl">Endo Heat Flow(W/g)</text>
</svg>
</body></html>
